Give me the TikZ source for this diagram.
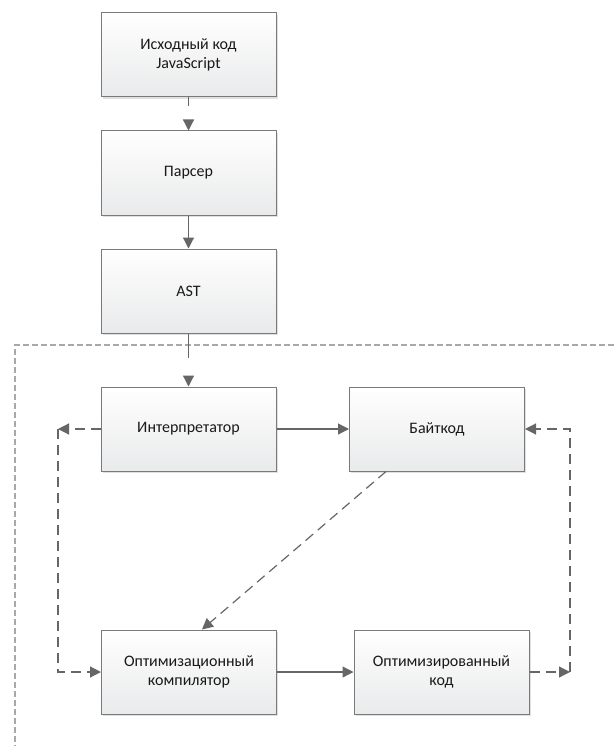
\documentclass[tikz,border=0pt]{standalone}
\usepackage{fontspec}
\setmainfont{Carlito}
\usetikzlibrary{arrows.meta,shadows,calc}
\definecolor{boxline}{HTML}{7A7A7A}
\definecolor{boxbot}{HTML}{E9EAEB}
\definecolor{arr}{HTML}{666666}
\definecolor{bnd}{HTML}{A8A8A8}
\begin{document}
\begin{tikzpicture}[x=1pt,y=-1pt,
  box/.style={draw=boxline, line width=1pt, top color=white, bottom color=boxbot,
    minimum width=175pt, minimum height=84pt, align=center, inner sep=2pt,
    font=\fontsize{16}{19.5}\selectfont, text=black!90,
    drop shadow={shadow xshift=1.8pt, shadow yshift=-1.8pt, fill=black!12, opacity=1}},
  conn/.style={draw=arr, line width=1.2pt, -{Triangle[length=11pt,width=11pt]}},
  dconn/.style={conn, dash pattern=on 10pt off 6pt},
  bound/.style={draw=bnd, line width=1.2pt, dash pattern=on 6pt off 3pt}]
\useasboundingbox (0,0) rectangle (614,746);
\draw[bound] (614,345) -- (15,345) -- (15,746);
\node[box] (src) at (188.5,55) {Исходный код\\JavaScript};
\node[box] (pars) at (188.5,173) {Парсер};
\node[box] (ast) at (188.5,291) {AST};
\node[box] (interp) at (188.5,429) {Интерпретатор};
\node[box] (byte) at (437,429) {Байткод};
\node[box] (comp) at (189,672) {Оптимизационный\\компилятор};
\node[box] (opt) at (441.5,672) {Оптимизированный\\код};
\coordinate (L1) at (58,429);
\coordinate (R1) at (570,672);
\coordinate (bs) at ($(byte.south west)+(37,0)$);
\coordinate (ct) at ($(comp.north west)+(101,0)$);
\draw[conn, dash pattern=on 9pt off 40pt] (src) -- (pars);
\draw[conn] (pars) -- (ast);
\draw[conn, dash pattern=on 24pt off 60pt] (ast) -- (interp);
\draw[conn] (interp) -- (byte);
\draw[conn] (comp) -- (opt);
\draw[dconn] (bs) -- (ct);
\draw[dconn] (interp.west) -- (L1);
\draw[dconn] (L1) -- (L1 |- comp.west) -- (comp.west);
\draw[dconn] (opt.east) -- (R1);
\draw[dconn] (R1) -- (R1 |- byte.east) -- (byte.east);
\end{tikzpicture}
\end{document}
